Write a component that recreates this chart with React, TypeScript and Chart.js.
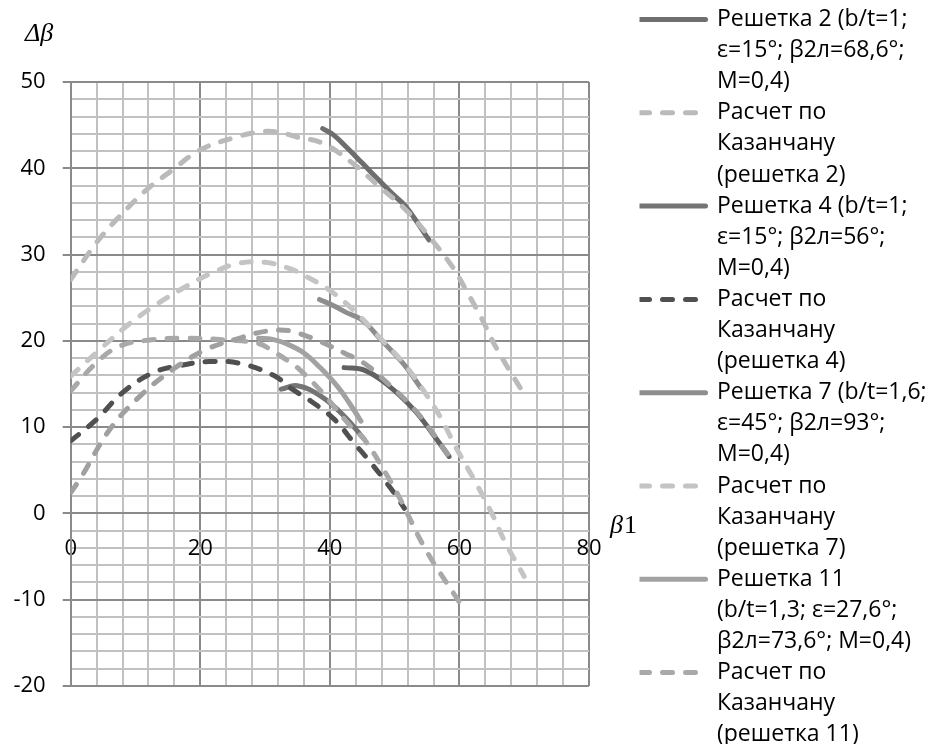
import React, { useEffect, useRef } from 'react';
import { Chart, registerables } from 'chart.js';

Chart.register(...registerables);

// ---- axis ranges / ticks ----
const X_MIN = 0;
const X_MAX = 80;
const X_STEP = 4;
const X_LABEL_EVERY = 20;
const Y_MIN = -20;
const Y_MAX = 50;
const Y_STEP = 2;
const Y_LABEL_EVERY = 10;

// ---- axis captions ----
const yCaption = 'Δβ';
const xCaptionSymbol = 'β';
const xCaptionIndex = '1';

// ---- series labels ----
const label1 = ['Решетка 2 (b/t=1;', 'ε=15°; β2л=68,6°;', 'M=0,4)'];
const label2 = ['Расчет по', 'Казанчану', '(решетка 2)'];
const label3 = ['Решетка 4 (b/t=1;', 'ε=15°; β2л=56°;', 'M=0,4)'];
const label4 = ['Расчет по', 'Казанчану', '(решетка 4)'];
const label5 = ['Решетка 7 (b/t=1,6;', 'ε=45°; β2л=93°;', 'M=0,4)'];
const label6 = ['Расчет по', 'Казанчану', '(решетка 7)'];
const label7 = ['Решетка 11', '(b/t=1,3; ε=27,6°;', 'β2л=73,6°; M=0,4)'];
const label8 = ['Расчет по', 'Казанчану', '(решетка 11)'];
const label9 = 'Ряд 9';
const label10 = 'Ряд 10';

// ---- series values ----
const s1X = [38.9, 40.5, 42.5, 45, 47.6, 50, 51.7, 53.5, 55.3];
const s1Y = [44.6, 43.9, 42.5, 40.6, 38.6, 36.8, 35.6, 33.7, 31.7];

const s2X = [0, 4, 7, 11.7, 15.7, 19.9, 25, 29, 32, 35, 38.9, 43.5, 47.6, 51.7, 55.3, 58.9, 61, 63.5, 65.6, 70];
const s2Y = [27.1, 31.4, 34, 37.5, 39.8, 42.1, 43.5, 44.2, 44.2, 43.6, 42.9, 40.6, 37.9, 35.2, 32.1, 28.6, 25.9, 22.5, 19.3, 13.8];

const s3X = [32.5, 35, 38.6, 42.2, 45.3];
const s3Y = [14.4, 14.8, 13.6, 11.3, 8.6];

const s4X = [0, 4, 8, 12.7, 17.3, 21.4, 26, 31.3, 34.2, 37.1, 40.7, 43.7, 46.3, 49.9, 51.5];
const s4Y = [8.4, 10.9, 14, 16.3, 17.2, 17.6, 17.4, 16, 14.4, 13, 10.9, 8.2, 5.9, 2.4, 0.6];

const s5X = [38.4, 40.5, 42.5, 45, 47.8, 51.4, 54];
const s5Y = [24.8, 24.1, 23.3, 22.4, 20.2, 17.3, 14.6];

const s6X = [0, 4.5, 8.6, 13.2, 17.8, 21.9, 26, 30, 33.7, 36, 39.9, 44, 47.8, 51.4, 54.5, 57.1, 59.5, 62.5, 65, 67.1, 70];
const s6Y = [15.9, 19, 21.7, 24.2, 26.3, 27.9, 29, 29.1, 28.4, 27.6, 25.9, 23.3, 20.3, 17.4, 14.2, 11.1, 7.6, 3.6, 0, -3.4, -7.3];

const s7X = [29, 31, 33.5, 36, 38.5, 41.2, 43, 44.8];
const s7Y = [20.3, 20.2, 19.6, 18.6, 16.9, 14.7, 12.8, 10.7];

const s8X = [0, 4, 7.6, 12.2, 17.8, 24, 29, 31.4, 33.7, 35.3, 38.6, 43.2, 45.3, 48.9, 50.9, 54.8, 60];
const s8Y = [14.2, 17.5, 19.4, 20.1, 20.3, 20.1, 19.7, 18.7, 17.6, 16.7, 14.2, 10.1, 8.6, 4.3, 1.6, -4.2, -10.3];

const s9X = [42.2, 45.3, 48.9, 53, 56, 58.4];
const s9Y = [16.9, 16.6, 14.9, 12, 9.1, 6.6];

const s10X = [0, 1.7, 6, 10.7, 15.8, 20.9, 26, 30, 33.7, 35.5, 38.6, 42.2, 45.3, 48.9, 53, 56, 58.4];
const s10Y = [2.4, 4.3, 9.7, 13.6, 16.7, 19, 20.3, 21.1, 21.2, 20.8, 19.9, 18.6, 17.4, 15.1, 12.1, 9.2, 6.6];

// ---- styles ----
const MAJOR = '#8a8a8a';
const MINOR = '#c1c1c1';
const DASH = [10, 13];
const LEGEND_COUNT = 8;

const pts = (xs: number[], ys: number[]) => xs.map((x, i) => ({ x, y: ys[i] }));

const seriesDefs = [
  { label: label1, xs: s1X, ys: s1Y, color: '#6e6e6e', dashed: false },
  { label: label2, xs: s2X, ys: s2Y, color: '#bababa', dashed: true },
  { label: label3, xs: s3X, ys: s3Y, color: '#747474', dashed: false },
  { label: label4, xs: s4X, ys: s4Y, color: '#505050', dashed: true },
  { label: label5, xs: s5X, ys: s5Y, color: '#8e8e8e', dashed: false },
  { label: label6, xs: s6X, ys: s6Y, color: '#c4c4c4', dashed: true },
  { label: label7, xs: s7X, ys: s7Y, color: '#a2a2a2', dashed: false },
  { label: label8, xs: s8X, ys: s8Y, color: '#a9a9a9', dashed: true },
  { label: label9, xs: s9X, ys: s9Y, color: '#626262', dashed: false },
  { label: label10, xs: s10X, ys: s10Y, color: '#a0a0a0', dashed: true },
];

// draws the axis captions (Δβ at top-left, β1 right of the x axis)
const captionPlugin = {
  id: 'axisCaption',
  afterDraw(chart: any) {
    const { ctx, chartArea, scales } = chart;
    const y0 = scales.y.getPixelForValue(0);
    ctx.save();
    ctx.fillStyle = '#000';
    ctx.textBaseline = 'alphabetic';
    ctx.textAlign = 'left';
    // y caption
    ctx.font = 'italic 26px "Liberation Serif"';
    ctx.fillText(yCaption, 25, chartArea.top - 41);
    // x caption
    const x = chartArea.right + 21;
    ctx.fillText(xCaptionSymbol, x, y0 + 20);
    const w = ctx.measureText(xCaptionSymbol).width;
    ctx.font = '26px "Liberation Serif"';
    ctx.fillText(xCaptionIndex, x + w + 1, y0 + 20);
    ctx.restore();
  },
};

export default function App() {
  const ref = useRef<HTMLCanvasElement>(null);

  useEffect(() => {
    const canvas = ref.current;
    if (!canvas) return;
    const n = seriesDefs.length;
    const tickFont = { family: 'Open Sans', size: 22 };
    const chart = new Chart(canvas, {
      type: 'line',
      data: {
        datasets: seriesDefs.map((s, i) => ({
          label: s.label as any,
          data: pts(s.xs, s.ys),
          borderColor: s.color,
          backgroundColor: s.color,
          borderWidth: 5,
          borderDash: s.dashed ? DASH : [],
          borderCapStyle: 'round',
          borderJoinStyle: 'round',
          tension: 0.4,
          pointRadius: 0,
          pointHoverRadius: 0,
          fill: false,
          order: n - i,
        })),
      },
      options: {
        animation: false,
        responsive: false,
        devicePixelRatio: 1,
        events: [],
        layout: { padding: { top: 8, left: 0, right: 0, bottom: 0 } },
        scales: {
          x: {
            type: 'linear',
            min: X_MIN,
            max: X_MAX,
            position: { y: 0 } as any,
            afterFit: (s: any) => { s.height = 0; },
            ticks: {
              stepSize: X_STEP,
              autoSkip: false,
              maxRotation: 0,
              minRotation: 0,
              padding: 22,
              color: '#000',
              font: tickFont,
              callback: (v: any) => (Number(v) % X_LABEL_EVERY === 0 ? String(v) : ''),
            },
            grid: {
              color: (c: any) => (c.tick && c.tick.value % X_LABEL_EVERY === 0 ? MAJOR : MINOR),
              lineWidth: 2,
              drawTicks: false,
            },
            border: { display: true, color: MAJOR, width: 2 },
          },
          x2: {
            type: 'linear',
            position: 'bottom',
            display: true,
            afterFit: (s: any) => { s.height = 74; },
            grid: { display: false, drawTicks: false },
            border: { display: false },
            ticks: { display: false },
          },
          y: {
            type: 'linear',
            min: Y_MIN,
            max: Y_MAX,
            position: 'left',
            afterFit: (s: any) => { s.width = 70.7; },
            ticks: {
              stepSize: Y_STEP,
              autoSkip: false,
              padding: 17,
              color: '#000',
              font: tickFont,
              callback: (v: any) => (Number(v) % Y_LABEL_EVERY === 0 ? String(v) : ''),
            },
            grid: {
              color: (c: any) => (c.tick && c.tick.value % Y_LABEL_EVERY === 0 ? MAJOR : MINOR),
              lineWidth: 2,
              tickLength: 8,
              tickWidth: 2,
              tickColor: (c: any) => (c.tick && c.tick.value % Y_LABEL_EVERY === 0 ? MAJOR : 'rgba(0,0,0,0)'),
            },
            border: { display: true, color: MAJOR, width: 2 },
          },
          y2: {
            type: 'linear',
            position: 'right',
            display: true,
            afterFit: (s: any) => { s.width = 50.5; },
            grid: { display: false, drawTicks: false },
            border: { display: false },
            ticks: { display: false },
          },
        },
        plugins: {
          tooltip: { enabled: false },
          // reserves the band above the plot (caption drawn by plugin)
          title: {
            display: true,
            text: '',
            font: { family: 'Liberation Serif', size: 26, lineHeight: 1.2 },
            padding: { top: 8.4, bottom: 34.4 },
          },
          legend: {
            display: true,
            position: 'right',
            align: 'start',
            maxWidth: 291.5,
            labels: {
              usePointStyle: true,
              pointStyle: 'line',
              pointStyleWidth: 66,
              boxHeight: 10,
              padding: 0,
              color: '#000',
              font: { family: 'Open Sans', size: 23, lineHeight: 31.1 / 23 },
              generateLabels: (ch: any) =>
                Chart.defaults.plugins.legend.labels.generateLabels(ch).map((item: any) => {
                  const ds: any = ch.data.datasets[item.datasetIndex];
                  return {
                    ...item,
                    lineWidth: 5,
                    lineDash: ds.borderDash || [],
                    lineCap: 'round',
                    strokeStyle: ds.borderColor,
                    fillStyle: 'rgba(0,0,0,0)',
                    pointStyle: 'line',
                  };
                }),
              filter: (item: any) => item.datasetIndex < LEGEND_COUNT,
              sort: (a: any, b: any) => a.datasetIndex - b.datasetIndex,
            },
          },
        },
      } as any,
      plugins: [captionPlugin],
    });
    return () => chart.destroy();
  }, []);

  return (
    <div
      style={{
        position: 'fixed',
        left: 0,
        top: 0,
        width: 931,
        height: 744,
        overflow: 'hidden',
        background: '#fff',
      }}
    >
      <canvas ref={ref} width={931} height={760} style={{ display: 'block' }} />
    </div>
  );
}
